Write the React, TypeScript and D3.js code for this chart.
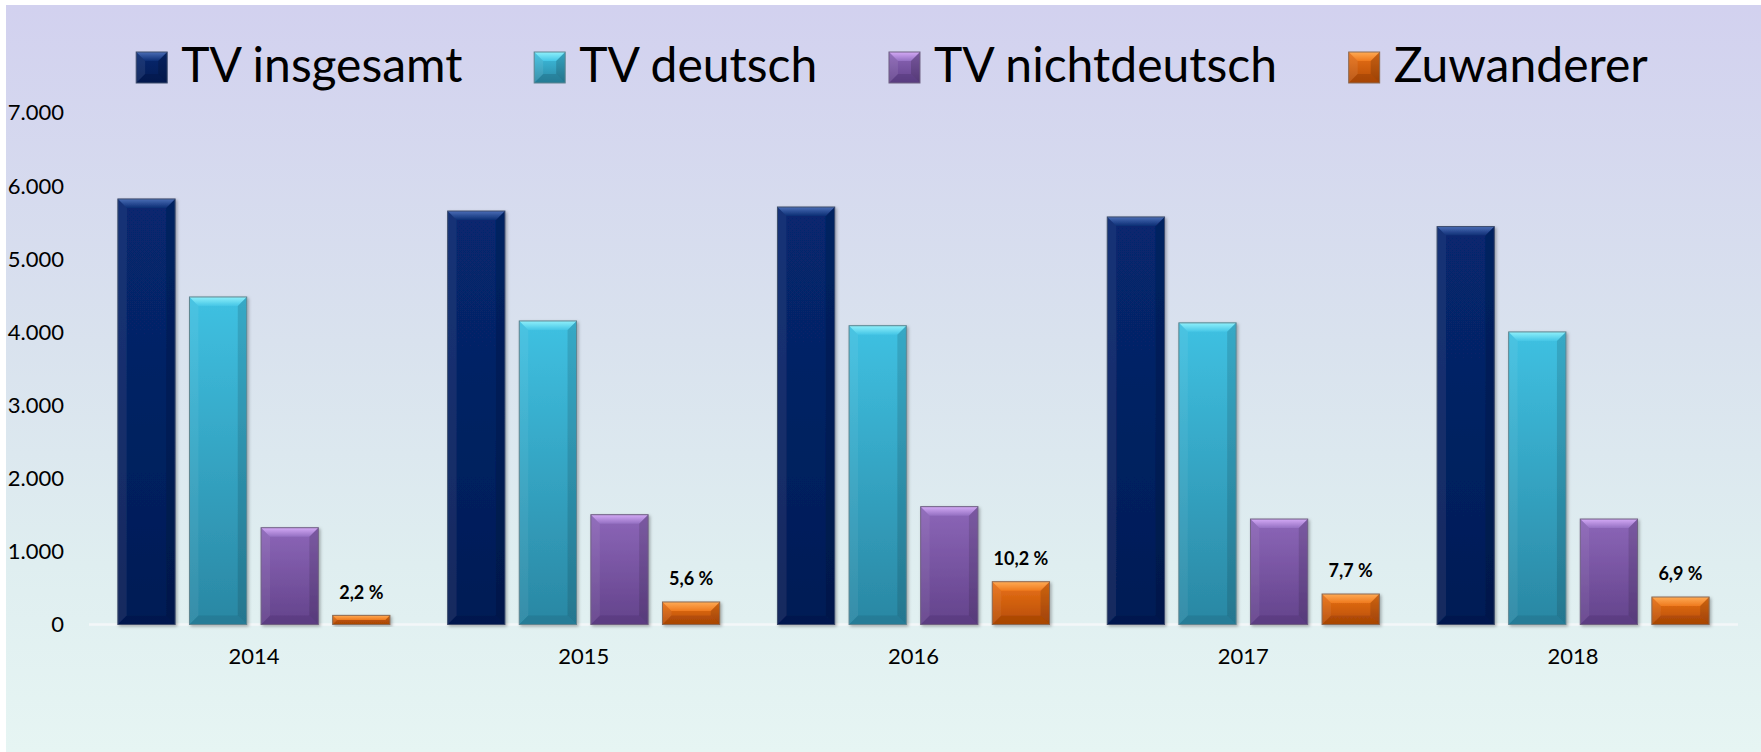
import React from 'react';
import * as d3 from 'd3';

// ---- data ----
const years = ['2014', '2015', '2016', '2017', '2018'];
const seriesNames = ['TV insgesamt', 'TV deutsch', 'TV nichtdeutsch', 'Zuwanderer'];
const tvInsgesamt = [5818, 5653, 5708, 5572, 5440];
const tvDeutsch = [4478, 4150, 4085, 4124, 4000];
const tvNichtdeutsch = [1323, 1501, 1611, 1442, 1442];
const zuwanderer = [125, 308, 585, 417, 376];
const zuwandererLabels = ['2,2 %', '5,6 %', '10,2 %', '7,7 %', '6,9 %'];
const yTickValues = [0, 1000, 2000, 3000, 4000, 5000, 6000, 7000];

const seriesValues = [tvInsgesamt, tvDeutsch, tvNichtdeutsch, zuwanderer];

const palettes = [
  { top: '#07276f', bottom: '#041c55', bevelA: '#4b6db6', bevelB: '#0c2d74', dark: '#021443', stroke: '#3d4c6b' },
  { top: '#3fc1e2', bottom: '#2a87a3', bevelA: '#8ff0fb', bevelB: '#45c6e6', dark: '#1d6880', stroke: '#5e8590' },
  { top: '#8c66b8', bottom: '#63438b', bevelA: '#d4aaf6', bevelB: '#9470c2', dark: '#4c3170', stroke: '#6f6182' },
  { top: '#ea7217', bottom: '#b64c06', bevelA: '#ffab55', bevelB: '#ef7a1e', dark: '#8e3a03', stroke: '#8a6a55' },
];

const W = 1761;
const H = 752;
const FONT = 'Lato, "Open Sans", sans-serif';

const deLocale = d3.formatLocale({ decimal: ',', thousands: '.', grouping: [3], currency: ['', ' €'] });
const fmt = deLocale.format(',d');

function measure(text: string, font: string): number {
  if (typeof document === 'undefined') return text.length * 25;
  const c = document.createElement('canvas');
  const ctx = c.getContext('2d');
  if (!ctx) return text.length * 25;
  ctx.font = font;
  return ctx.measureText(text).width;
}

function BevelBar({ x, y, w, h, si }: { x: number; y: number; w: number; h: number; si: number }) {
  const c = palettes[si];
  const b = Math.max(0, Math.min(9, h / 2, w / 2));
  return (
    <g filter="url(#barShadow)">
      <rect x={x} y={y} width={w} height={h} fill={`url(#body${si})`} />
      <polygon
        points={`${x},${y} ${x + w},${y} ${x + w - b},${y + b} ${x + b},${y + b}`}
        fill={`url(#bevel${si})`}
      />
      <polygon
        points={`${x},${y} ${x + b},${y + b} ${x + b},${y + h - b} ${x},${y + h}`}
        fill="#ffffff"
        opacity={0.06}
      />
      <polygon
        points={`${x + w},${y} ${x + w - b},${y + b} ${x + w - b},${y + h - b} ${x + w},${y + h}`}
        fill="#000000"
        opacity={0.12}
      />
      <polygon
        points={`${x},${y + h} ${x + w},${y + h} ${x + w - b},${y + h - b} ${x + b},${y + h - b}`}
        fill={c.dark}
        opacity={0.35}
      />
      <rect x={x} y={y} width={w} height={h} fill="none" stroke={c.stroke} strokeWidth={1} />
    </g>
  );
}

function LegendSwatch({ x, y, s, si }: { x: number; y: number; s: number; si: number }) {
  const c = palettes[si];
  const b = 9;
  return (
    <g>
      <rect x={x} y={y} width={s} height={s} fill={`url(#body${si})`} />
      <polygon points={`${x},${y} ${x + s},${y} ${x + s - b},${y + b} ${x + b},${y + b}`} fill={`url(#bevel${si})`} />
      <polygon points={`${x},${y} ${x + b},${y + b} ${x + b},${y + s - b} ${x},${y + s}`} fill="#ffffff" opacity={0.08} />
      <polygon points={`${x + s},${y} ${x + s - b},${y + b} ${x + s - b},${y + s - b} ${x + s},${y + s}`} fill="#000" opacity={0.15} />
      <polygon points={`${x},${y + s} ${x + s},${y + s} ${x + s - b},${y + s - b} ${x + b},${y + s - b}`} fill={c.dark} opacity={0.4} />
      <rect x={x} y={y} width={s} height={s} fill="none" stroke={c.stroke} strokeWidth={1} />
    </g>
  );
}

export default function App() {
  const plotLeft = 89;
  const plotRight = 1738;
  const yZero = 624.5;
  const yTop = 112.5;

  const x0 = d3.scaleBand<string>().domain(years).range([plotLeft, plotRight]).paddingInner(0.175).paddingOuter(0.0875);
  const x1 = d3.scaleBand<string>().domain(seriesNames).range([0, x0.bandwidth()]).paddingInner(0.2).paddingOuter(0);
  const y = d3.scaleLinear().domain([0, 7000]).range([yZero, yTop]);

  // legend layout
  const legendFontSize = 48;
  const legendFont = `${legendFontSize}px Lato`;
  const sw = 31;
  const swGap = 14;
  const itemGap = 70;
  const widths = seriesNames.map((n) => measure(n, legendFont));
  const total = widths.reduce((a, w) => a + sw + swGap + w, 0) + itemGap * (seriesNames.length - 1);
  const legendCenter = 892;
  let cursor = legendCenter - total / 2;
  const legendItems = seriesNames.map((n, i) => {
    const item = { name: n, x: cursor, i };
    cursor += sw + swGap + widths[i] + itemGap;
    return item;
  });
  const legendSwY = 52;
  const legendBaseline = 82;

  return (
    <svg
      width={W}
      height={H}
      viewBox={`0 0 ${W} ${H}`}
      style={{ position: 'absolute', left: 0, top: 0, display: 'block' }}
    >
      <defs>
        <linearGradient id="bg" x1="0" y1="0" x2="0" y2="1">
          <stop offset="0" stopColor="#d2d1ef" />
          <stop offset="0.45" stopColor="#d9e2ee" />
          <stop offset="0.75" stopColor="#dfeef0" />
          <stop offset="1" stopColor="#e6f5f3" />
        </linearGradient>
        {palettes.map((c, i) => (
          <React.Fragment key={i}>
            <linearGradient id={`body${i}`} x1="0" y1="0" x2="0" y2="1">
              <stop offset="0" stopColor={c.top} />
              <stop offset="1" stopColor={c.bottom} />
            </linearGradient>
            <linearGradient id={`bevel${i}`} x1="0" y1="0" x2="0" y2="1">
              <stop offset="0" stopColor={c.bevelA} />
              <stop offset="1" stopColor={c.bevelB} />
            </linearGradient>
          </React.Fragment>
        ))}
        <filter id="barShadow" x="-20%" y="-20%" width="140%" height="140%">
          <feDropShadow dx="1.5" dy="1.5" stdDeviation="1.5" floodColor="#000" floodOpacity="0.3" />
        </filter>
      </defs>

      <rect x={0} y={0} width={W} height={H} fill="#ffffff" />
      <rect x={6} y={5} width={W - 6} height={H - 5} fill="url(#bg)" />

      {/* legend */}
      {legendItems.map((it) => (
        <g key={it.name}>
          <LegendSwatch x={it.x} y={legendSwY} s={sw} si={it.i} />
          <text
            x={it.x + sw + swGap}
            y={legendBaseline}
            fontFamily={FONT}
            fontSize={legendFontSize}
            fill="#000"
          >
            {it.name}
          </text>
        </g>
      ))}

      {/* y axis labels */}
      {yTickValues.map((t) => (
        <text
          key={t}
          x={64}
          y={y(t)}
          dy="0.36em"
          textAnchor="end"
          fontFamily={FONT}
          fontSize={22}
          fill="#000"
        >
          {fmt(t)}
        </text>
      ))}

      {/* baseline */}
      <line x1={plotLeft} x2={plotRight} y1={yZero} y2={yZero} stroke="#f3f7f8" strokeWidth={2.5} />

      {/* bars */}
      {years.map((yr, yi) => (
        <g key={yr}>
          {seriesNames.map((s, si) => {
            const v = seriesValues[si][yi];
            const bx = (x0(yr) ?? 0) + (x1(s) ?? 0);
            const by = y(v);
            return <BevelBar key={s} x={bx} y={by} w={x1.bandwidth()} h={yZero - by} si={si} />;
          })}
        </g>
      ))}

      {/* data labels for Zuwanderer */}
      {years.map((yr, yi) => {
        const bx = (x0(yr) ?? 0) + (x1(seriesNames[3]) ?? 0) + x1.bandwidth() / 2;
        return (
          <text
            key={yr}
            x={bx}
            y={y(zuwanderer[yi]) - 23}
            dy="0.36em"
            textAnchor="middle"
            fontFamily={FONT}
            fontWeight={700}
            fontSize={18}
            fill="#000"
          >
            {zuwandererLabels[yi]}
          </text>
        );
      })}

      {/* x axis labels */}
      {years.map((yr) => (
        <text
          key={yr}
          x={(x0(yr) ?? 0) + x0.bandwidth() / 2}
          y={656}
          dy="0.36em"
          textAnchor="middle"
          fontFamily={FONT}
          fontSize={22}
          fill="#000"
        >
          {yr}
        </text>
      ))}
    </svg>
  );
}
